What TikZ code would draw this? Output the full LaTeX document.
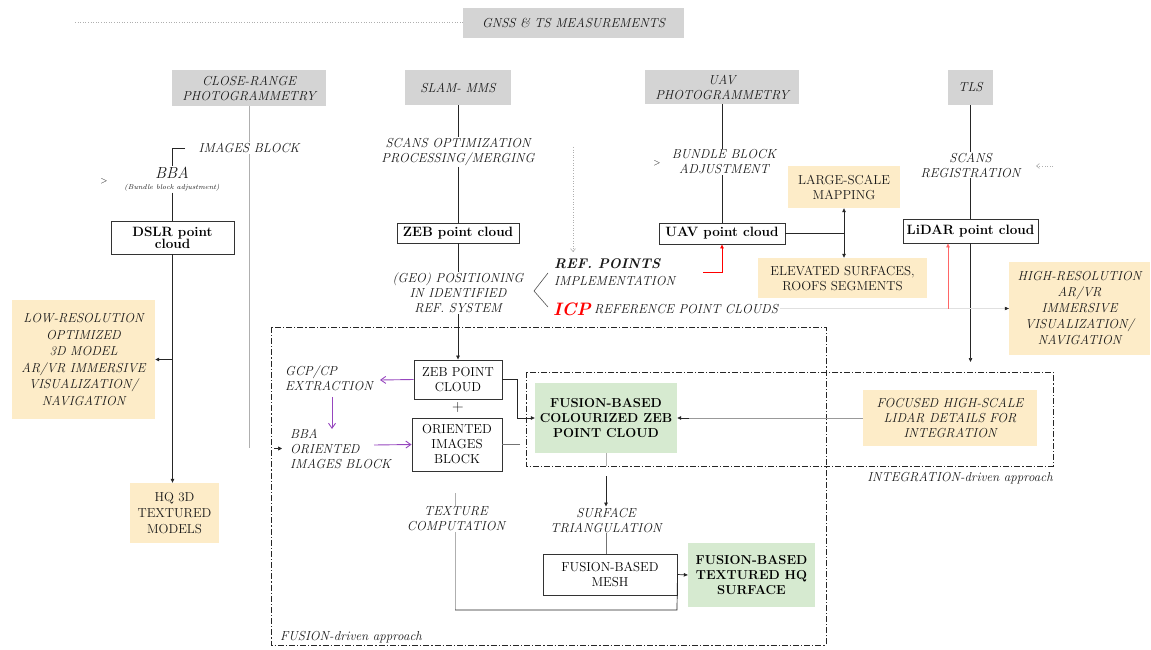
\documentclass[tikz,border=0pt]{standalone}
\usetikzlibrary{arrows.meta}
\definecolor{boxgray}{RGB}{212,212,212}
\definecolor{beige}{RGB}{253,236,200}
\definecolor{lgreen}{RGB}{214,234,208}
\definecolor{purp}{RGB}{150,70,190}
\definecolor{txt}{RGB}{25,25,25}
\definecolor{lline}{RGB}{175,175,175}
\begin{document}
\begin{tikzpicture}[x=1pt,y=-1pt,
  every node/.style={font=\fontsize{13}{15}\selectfont\itshape, text=txt, inner sep=1pt, align=center},
  gbox/.style={fill=boxgray, inner sep=0pt},
  ybox/.style={fill=beige, inner sep=0pt},
  gnbox/.style={fill=lgreen, inner sep=0pt, font=\fontsize{13}{15}\selectfont\bfseries, text=black},
  wbox/.style={draw=black!80, line width=0.9pt, fill=white, inner sep=0pt, font=\fontsize{13.5}{15}\selectfont\bfseries, text=black},
  pbox/.style={draw=black!80, line width=0.9pt, fill=white, inner sep=0pt, font=\fontsize{13}{15}\selectfont, text=black},
  ln/.style={draw=black!85, line width=0.7pt},
  gl/.style={draw=lline, line width=0.6pt},
  arr/.style={-{Triangle[length=4pt,width=3.5pt]}},
  frame/.style={draw=black!85, line width=0.8pt, dash pattern=on 6pt off 2pt on 1.2pt off 2pt},
  pa/.style={draw=purp, line width=0.9pt, -{Straight Barb[length=5pt,width=7pt]}}
]
\useasboundingbox (0,0) rectangle (1151,650);

% top row
\node[gbox, minimum width=221, minimum height=30] (gnss) at (573.5,23) {GNSS \& TS MEASUREMENTS};
\coordinate (dotL) at (75,22);
\draw[lline, line width=0.6pt, dotted] (dotL) -- (dotL -| gnss.west);

\node[gbox, minimum width=154, minimum height=36] (cr) at (249,88) {CLOSE-RANGE\\PHOTOGRAMMETRY};
\node[gbox, minimum width=106, minimum height=35] (slam) at (458,87.5) {SLAM- MMS};
\node[gbox, minimum width=154, minimum height=34] (uav) at (722,87) {UAV\\PHOTOGRAMMETRY};
\node[gbox, minimum width=45, minimum height=35] (tls) at (970.5,87.5) {TLS};

% close range column
\node (img) at (249,148) {IMAGES BLOCK};
\coordinate (crEnd) at (249,448);
\draw[gl] (cr.south) -- (cr.south |- img.north);
\draw[gl] (cr.south |- img.south) -- (crEnd);
\node[font=\fontsize{16}{18}\selectfont\itshape] (bba) at (172,173) {BBA};
\node[font=\fontsize{7}{8}\selectfont\itshape] (bbat) at (172,188) {(Bundle block adjustment)};
\node[font=\fontsize{9}{10}\selectfont] (gt1) at (104,181) {>};
\coordinate (brA) at (185,148);
\coordinate (brB) at (172,148);
\draw[ln] (brA) -- (brB) -- (brB |- bba.north);
\node[wbox, minimum width=123, minimum height=33] (dslr) at (172.5,237.5) {DSLR point\\[-3pt]cloud};
\draw[ln] (dslr.north |- bbat.south) -- (dslr.north);
\node[ybox, minimum width=143, minimum height=119, font=\fontsize{13}{16.5}\selectfont\itshape] (lowres) at (83.5,359.5) {LOW-RESOLUTION\\OPTIMIZED\\3D MODEL\\AR/VR IMMERSIVE\\VISUALIZATION/\\NAVIGATION};
\node[ybox, minimum width=89, minimum height=60, font=\fontsize{13}{16}\selectfont] (hq) at (174.5,513) {HQ 3D\\TEXTURED\\MODELS};
\draw[ln, arr] (dslr.south) -- (dslr.south |- hq.north);
\coordinate (brL) at (172.5,359.5);
\draw[ln, arr] (brL) -- (lowres.east);

% SLAM column
\node (sopt) at (458,152) {SCANS OPTIMIZATION\\PROCESSING/MERGING};
\draw[ln] (slam.south) -- (slam.south |- sopt.north);
\node[wbox, minimum width=122, minimum height=20] (zebpc) at (458,233) {ZEB point cloud};
\draw[ln] (zebpc.north |- sopt.south) -- (zebpc.north);
\node (geo) at (458,293) {(GEO) POSITIONING\\IN IDENTIFIED\\REF. SYSTEM};
\draw[ln] (zebpc.south) -- (geo.north);

% ref points / ICP
\coordinate (dvA) at (573,147);
\coordinate (dvB) at (573,252);
\draw[lline, line width=0.6pt, dotted, -{Straight Barb[length=3pt,width=5pt]}] (dvA) -- (dvB);
\coordinate (vA) at (548,273);
\coordinate (vB) at (534,291);
\coordinate (vC) at (548,307);
\draw[black!70, line width=0.6pt] (vA) -- (vB) -- (vC);
\node[anchor=west, font=\fontsize{14}{16}\selectfont\bfseries\itshape] (refp) at (553,264) {REF. POINTS};
\node[anchor=west] (impl) at (553,281) {IMPLEMENTATION};
\node[anchor=west, font=\fontsize{18}{20}\selectfont\bfseries\itshape, text=red, inner sep=0pt] (icp) at (553,309) {ICP};
\node[anchor=west, inner sep=0pt] (refpc) at ([xshift=3pt]icp.east) {REFERENCE POINT CLOUDS};

% UAV column
\node (bba2) at (724,162) {BUNDLE BLOCK\\ADJUSTMENT};
\node[font=\fontsize{9}{10}\selectfont] (gt2) at (657,163) {>};
\draw[ln] (uav.south) -- (uav.south |- bba2.north);
\node[wbox, minimum width=126, minimum height=21] (uavpc) at (722,233.5) {UAV point cloud};
\draw[ln] (uavpc.north |- bba2.south) -- (uavpc.north);
\node[ybox, minimum width=112, minimum height=42, font=\fontsize{13}{15}\selectfont] (large) at (844,187) {LARGE-SCALE\\MAPPING};
\node[ybox, minimum width=169, minimum height=40, font=\fontsize{13}{15}\selectfont] (elev) at (842.5,278) {ELEVATED SURFACES,\\ROOFS SEGMENTS};
\coordinate (uj) at (844,233.5);
\draw[ln] (uavpc.east) -- (uj);
\draw[ln, arr] (uj) -- (large.south);
\draw[ln, arr] (uj) -- (uj |- elev.north);
\coordinate (redA) at (703,272);
\draw[red, line width=0.7pt, arr] (redA) -| (uavpc.south);

% TLS column
\node (sreg) at (970.5,165) {SCANS\\REGISTRATION};
\draw[ln] (tls.south) -- (sreg.north);
\coordinate (daA) at (1053,166);
\coordinate (daB) at (1036,166);
\draw[lline, line width=0.6pt, dotted, -{Straight Barb[length=3pt,width=5pt]}] (daA) -- (daB);
\node[wbox, minimum width=135, minimum height=24] (lidar) at (970.5,231) {LiDAR point cloud};
\draw[ln] (sreg.south) -- (lidar.north);
\node[ybox, minimum width=141, minimum height=93, font=\fontsize{13}{16}\selectfont\itshape] (highres) at (1079.5,308.5) {HIGH-RESOLUTION\\AR/VR\\IMMERSIVE\\VISUALIZATION/\\NAVIGATION};
\coordinate (lidEnd) at (970.5,362);
\draw[ln, arr] (lidar.south) -- (lidEnd);
\coordinate (icpR) at (780,308.5);
\coordinate (icpJ) at (948,308.5);
\draw[black!12, line width=0.8pt] (icpR) -- (icpJ);
\draw[black!12, line width=0.8pt] (icpJ) -- (highres.west);
\draw[black!85, -{Triangle[length=4pt,width=3.5pt]}] ([xshift=-4pt]highres.west) -- (highres.west);
\draw[red!60, line width=0.6pt, arr] (icpJ) -- (icpJ |- lidar.south);

% frames
\coordinate (fTL) at (271,327);
\coordinate (fBR) at (826,645);
\draw[frame] (fTL) rectangle (fBR);
\coordinate (iTL) at (526,372);
\coordinate (iBR) at (1053,466);
\draw[frame] (iTL) rectangle (iBR);
\node[anchor=west, font=\fontsize{13}{15}\selectfont\itshape] (flab) at (279,637) {FUSION-\textit{driven approach}};
\node[anchor=east, font=\fontsize{13}{15}\selectfont\itshape] (ilab) at (1054,478) {INTEGRATION-\textit{driven approach}};

% fusion content
\node[pbox, minimum width=88, minimum height=39] (zeb2) at (458,379.5) {ZEB POINT\\CLOUD};
\draw[ln, arr] (geo.south) -- (zeb2.north);
\node[font=\fontsize{16}{18}\selectfont\upshape] (plus) at (458,408) {+};
\node[pbox, minimum width=90, minimum height=53] (orient) at (457,444.5) {ORIENTED\\IMAGES\\BLOCK};
\node[anchor=west, align=left] (gcp) at (284,378.5) {GCP/CP\\EXTRACTION};
\node[anchor=west, align=left] (bbao) at (289,449) {BBA\\ORIENTED\\IMAGES BLOCK};
\coordinate (gcpE) at (380,380);
\draw[pa] (zeb2.west) -- (gcpE);
\coordinate (pvA) at (332,397);
\coordinate (pvB) at (332,429);
\draw[pa] (pvA) -- (pvB);
\coordinate (phA) at (374,445);
\draw[pa] (phA) -- (orient.west);
\coordinate (smA) at (274,448.5);
\coordinate (smB) at (282,448.5);
\draw[ln, -{Triangle[length=4pt,width=4pt]}] (smA) -- (smB);

\node[gnbox, minimum width=142, minimum height=70] (fus1) at (606,418) {FUSION-BASED\\COLOURIZED ZEB\\POINT CLOUD};
\coordinate (zj1) at (517,379.5);
\coordinate (zj2) at (517,418);
\draw[ln, arr] (zeb2.east) -- (zj1) -- (zj2) -- (fus1.west);
\coordinate (oj) at (520,444.5);
\draw[black!55, line width=0.6pt] (orient.east) -- (oj);

\node[ybox, minimum width=174, minimum height=56] (focus) at (950,418) {FOCUSED HIGH-SCALE\\LIDAR DETAILS FOR\\INTEGRATION};
\draw[black!40, line width=0.7pt] (focus.west) -- ([xshift=12pt]fus1.east);
\draw[ln, arr] ([xshift=12pt]fus1.east) -- (fus1.east);

\node (surf) at (606,520) {SURFACE\\TRIANGULATION};
\coordinate (f1a) at (606,466);
\draw[gl] (fus1.south) -- (f1a);
\coordinate (f1b) at (606,476);
\draw[ln, arr] (f1b) -- (surf.north);
\node[pbox, minimum width=134, minimum height=41] (mesh) at (610,574.5) {FUSION-BASED\\MESH};
\draw[black!55, line width=0.6pt] (surf.south) -- (surf.south |- mesh.north);
\node[gnbox, minimum width=127, minimum height=64] (fus2) at (751.5,575) {FUSION-BASED\\TEXTURED HQ\\SURFACE};
\draw[ln, arr] (mesh.east) -- (fus2.west);

\node (tex) at (456,519) {TEXTURE\\COMPUTATION};
\coordinate (tA) at (455,493);
\coordinate (tB) at (455,610);
\coordinate (tC) at (677,610);
\draw[gl] (tA) -- (tA |- tex.north);
\draw[gl] (tA |- tex.south) -- (tB);
\draw[ln] (tB) -- (tC) -- (mesh.east);
\end{tikzpicture}
\end{document}
